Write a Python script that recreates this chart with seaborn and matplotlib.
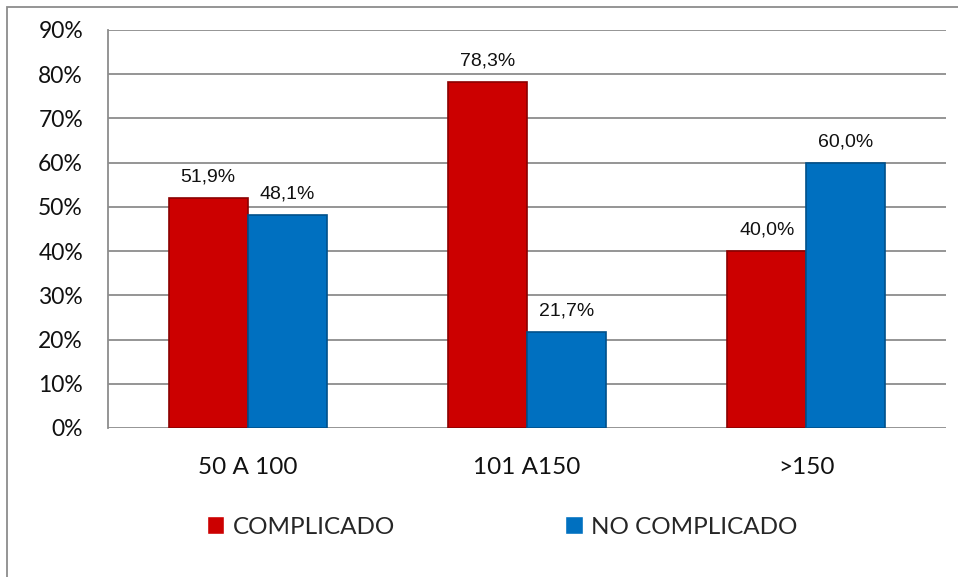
import matplotlib
matplotlib.use("Agg")
import matplotlib.pyplot as plt
from matplotlib.patches import Rectangle
import seaborn as sns
import pandas as pd

categories = ["50 A 100", "101 A150", ">150"]
series_names = ["COMPLICADO", "NO COMPLICADO"]
complicado = [51.9, 78.3, 40.0]
no_complicado = [48.1, 21.7, 60.0]
y_ticks = [0, 10, 20, 30, 40, 50, 60, 70, 80, 90]
colors = ["#CC0000", "#0070C0"]
edge_colors = ["#8B0000", "#00508A"]

df = pd.DataFrame({
    "rango": categories * 2,
    "grupo": [series_names[0]] * 3 + [series_names[1]] * 3,
    "valor": complicado + no_complicado,
})

sns.set_style("white")
plt.rcParams["font.family"] = ["Lato", "DejaVu Sans"]

fig = plt.figure(figsize=(9.58, 5.77), dpi=100)
ax = fig.add_axes([108 / 958, 1 - 428 / 577, (946 - 108) / 958, (428 - 30) / 577])

sns.barplot(data=df, x="rango", y="valor", hue="grupo", hue_order=series_names,
            order=categories, palette=colors, width=0.566, gap=0,
            saturation=1, ax=ax, legend=True, zorder=3)

for container, ec in zip(ax.containers, edge_colors):
    for bar in container:
        bar.set_edgecolor(ec)
        bar.set_linewidth(1.2)
    labels = [f"{v:.1f}".replace(".", ",") + "%" for v in container.datavalues]
    ax.bar_label(container, labels=labels, padding=9, fontsize=14,
                 family=["Liberation Sans", "DejaVu Sans"], color="#111111")

ax.set_ylim(0, 90)
ax.set_yticks(y_ticks)
ax.set_yticklabels([f"{t}%" for t in y_ticks])
ax.set_xlim(-0.5, 2.5)
ax.yaxis.grid(True, color="#8C8C8C", linewidth=1.3, zorder=0)
ax.set_axisbelow(True)
ax.tick_params(axis="y", length=0, pad=18, labelsize=16.5, labelcolor="#111111")
ax.tick_params(axis="x", length=0, pad=21, labelsize=17.5, labelcolor="#111111")
ax.set_xlabel("")
ax.set_ylabel("")
for side in ["top", "right", "bottom"]:
    ax.spines[side].set_visible(False)
ax.spines["left"].set_color("#8C8C8C")
ax.spines["left"].set_linewidth(1.3)

handles, lbls = ax.get_legend_handles_labels()
ax.get_legend().remove()
fig.legend(handles, lbls, loc="center", bbox_to_anchor=(502 / 958, 1 - 527 / 577),
           ncol=2, frameon=False, fontsize=17.5, handlelength=0.72, handleheight=0.72,
           handletextpad=0.34, columnspacing=7.0)

# outer chart frame
fig.patches.append(Rectangle((7 / 958, -0.1), 1.2, 1 - 7 / 577 + 0.1,
                             transform=fig.transFigure, fill=False,
                             edgecolor="#8C8C8C", linewidth=1.3))

fig.savefig("out.png", dpi=100)
